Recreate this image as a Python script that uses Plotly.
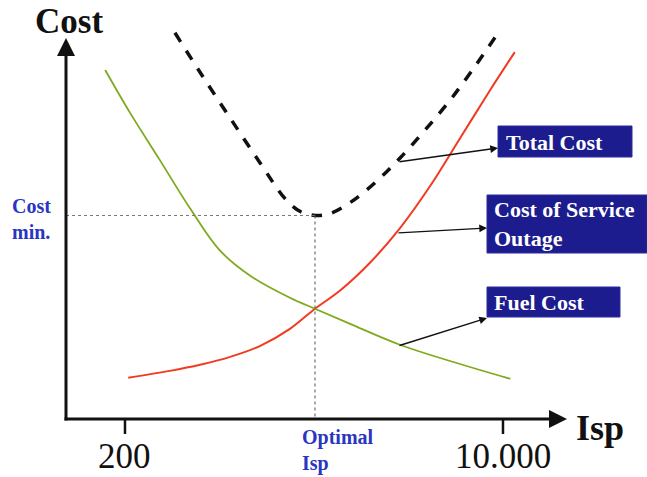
import plotly.graph_objects as go

# Conceptual trade-off between specific impulse (Isp) and cost.
# Units are arbitrary: origin of the axes at (0, 0), axis arrows end at x=10 / y=10.

total_x = [2.17, 2.67, 3.27, 3.87, 4.36, 4.66, 4.96, 5.26, 5.66, 6.16, 6.65, 7.15, 7.65, 8.15, 8.65]
total_y = [10.19, 9.15, 7.94, 6.75, 5.82, 5.48, 5.37, 5.42, 5.71, 6.24, 6.88, 7.62, 8.41, 9.31, 10.27]

outage_x = [1.24, 2.07, 2.67, 3.27, 3.87, 4.46, 4.96, 5.46, 6.06, 6.65, 7.25, 7.85, 8.45, 8.94]
outage_y = [1.09, 1.27, 1.43, 1.64, 1.93, 2.38, 2.91, 3.39, 4.13, 5.03, 6.14, 7.41, 8.68, 9.68]

fuel_x = [0.78, 1.28, 1.87, 2.47, 3.07, 3.67, 4.46, 4.96, 5.66, 6.65, 7.65, 8.85]
fuel_y = [9.21, 8.07, 6.83, 5.56, 4.44, 3.78, 3.20, 2.91, 2.51, 1.96, 1.53, 1.06]

tick_pos = [1.175, 8.705]
tick_text = ["200", "10.000"]

optimal_isp = 4.96
cost_min = 5.37

W, H = 647, 477
X0, XPX = 66, 50.2   # pixel of x=0, pixels per unit
Y0, YPX = 419, 37.9  # pixel of y=0, pixels per unit


def dx(p):
    return (p - X0) / XPX


def dy(p):
    return (Y0 - p) / YPX


SERIF = "Liberation Serif, Times New Roman, serif"
NAVY = "#1c1c8e"
BLUE = "#2a35c0"

fig = go.Figure()

fig.add_trace(go.Scatter(x=total_x, y=total_y, mode="lines",
                         line=dict(color="#111111", width=3.5, dash="dash", shape="spline"),
                         hoverinfo="skip"))
fig.add_trace(go.Scatter(x=outage_x, y=outage_y, mode="lines",
                         line=dict(color="#f23a22", width=2, shape="spline"),
                         hoverinfo="skip"))
fig.add_trace(go.Scatter(x=fuel_x, y=fuel_y, mode="lines",
                         line=dict(color="#7faa1e", width=1.8, shape="spline"),
                         hoverinfo="skip"))

shapes = [
    # guide lines to the optimum
    dict(type="line", x0=0, y0=cost_min, x1=optimal_isp, y1=cost_min,
         line=dict(color="#777777", width=1, dash="dot")),
    dict(type="line", x0=optimal_isp, y0=cost_min, x1=optimal_isp, y1=0,
         line=dict(color="#555555", width=1, dash="dot")),
]
for t in tick_pos:
    shapes.append(dict(type="line", x0=t, y0=0, x1=t, y1=dy(434),
                       line=dict(color="#111111", width=2.5)))

# label boxes
boxes = [(498, 126, 632, 157), (487, 195, 647, 253), (487, 287, 620, 317)]
for (l, t, r, b) in boxes:
    shapes.append(dict(type="rect", x0=dx(l), x1=dx(r), y0=dy(b), y1=dy(t),
                       fillcolor=NAVY, line=dict(color="#2b2ba0", width=1), layer="above"))

annotations = []

# axes drawn as arrows
annotations.append(dict(x=dx(567), y=0, ax=dx(63), ay=0, xref="x", yref="y", axref="x", ayref="y",
                        text="", showarrow=True, arrowhead=2, arrowsize=1.2, arrowwidth=3,
                        arrowcolor="#111111"))
annotations.append(dict(x=0, y=dy(38), ax=0, ay=dy(422), xref="x", yref="y", axref="x", ayref="y",
                        text="", showarrow=True, arrowhead=2, arrowsize=1.2, arrowwidth=3,
                        arrowcolor="#111111"))

# pointer arrows from curves to boxes
for (tx, ty, hx, hy) in [(398, 162, 498, 148), (397, 233, 487, 228), (398, 346, 487, 318)]:
    annotations.append(dict(x=dx(hx), y=dy(hy), ax=dx(tx), ay=dy(ty), xref="x", yref="y",
                            axref="x", ayref="y", text="", showarrow=True, arrowhead=2,
                            arrowsize=1.1, arrowwidth=1.4, arrowcolor="#111111", standoff=0))


def label(px_, py_, text, size, color, xanchor="center", bold=True, align="center"):
    annotations.append(dict(x=dx(px_), y=dy(py_), xref="x", yref="y", text=("<b>%s</b>" % text) if bold else text,
                            showarrow=False, xanchor=xanchor, yanchor="middle", align=align,
                            font=dict(family=SERIF, size=size, color=color)))


label(69, 21, "Cost", 35, "#111111")
label(600, 428, "Isp", 36, "#111111")
for t, s in zip(tick_pos, tick_text):
    annotations.append(dict(x=t, y=dy(456), xref="x", yref="y", text=s, showarrow=False,
                            font=dict(family=SERIF, size=35, color="#111111")))
label(300, 450, "Optimal<br>Isp", 20, BLUE, xanchor="left", align="left")
label(10, 219, "Cost<br>min.", 20, BLUE, xanchor="left", align="left")
label(504, 142, "Total Cost", 22, "white", xanchor="left", align="left")
label(492, 224, "Cost of Service<br>Outage", 22, "white", xanchor="left", align="left")
label(492, 302, "Fuel Cost", 22, "white", xanchor="left", align="left")

fig.update_layout(
    width=W, height=H,
    margin=dict(l=0, r=0, t=0, b=0),
    paper_bgcolor="white", plot_bgcolor="white",
    showlegend=False,
    xaxis=dict(range=[dx(0), dx(W)], visible=False, fixedrange=True),
    yaxis=dict(range=[dy(H), dy(0)], visible=False, fixedrange=True),
    shapes=shapes,
    annotations=annotations,
)

fig.write_html("out.html")
